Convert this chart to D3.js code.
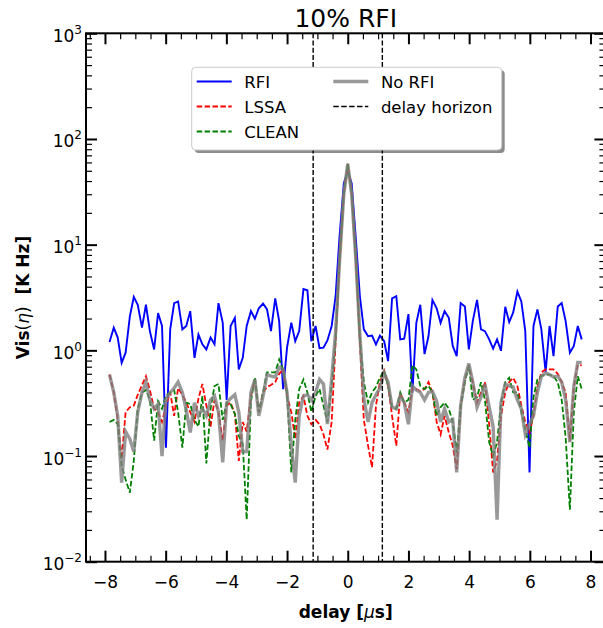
<!DOCTYPE html>
<html>
<head>
<meta charset="utf-8">
<script src="https://cdn.jsdelivr.net/npm/d3@7"></script>
<style>
  body { margin: 0; background: #fff; }
  text { font-family: "DejaVu Sans", sans-serif; }
</style>
</head>
<body>
<div id="chart"></div>
<script>
// delay axis (microseconds), one value per sample
const delay = [-7.85, -7.71, -7.58, -7.45, -7.32, -7.18, -7.05, -6.92, -6.78, -6.65,
  -6.52, -6.38, -6.25, -6.12, -5.99, -5.85, -5.72, -5.59, -5.45, -5.32,
  -5.19, -5.05, -4.92, -4.79, -4.66, -4.52, -4.39, -4.26, -4.12, -3.99,
  -3.86, -3.72, -3.59, -3.46, -3.33, -3.19, -3.06, -2.93, -2.79, -2.66,
  -2.53, -2.39, -2.26, -2.13, -2.00, -1.86, -1.73, -1.60, -1.46, -1.33,
  -1.20, -1.06, -0.93, -0.80, -0.67, -0.53, -0.40, -0.27, -0.13, 0,
  0.13, 0.27, 0.40, 0.53, 0.67, 0.80, 0.93, 1.06, 1.20, 1.33,
  1.46, 1.60, 1.73, 1.86, 2.00, 2.13, 2.26, 2.39, 2.53, 2.66,
  2.79, 2.93, 3.06, 3.19, 3.33, 3.46, 3.59, 3.72, 3.86, 3.99,
  4.12, 4.26, 4.39, 4.52, 4.66, 4.79, 4.92, 5.05, 5.19, 5.32,
  5.45, 5.59, 5.72, 5.85, 5.99, 6.12, 6.25, 6.38, 6.52, 6.65,
  6.78, 6.92, 7.05, 7.18, 7.32, 7.45, 7.58, 7.71];

const rfi = [1.2, 1.64, 1.32, 0.76, 0.95, 2.1, 3.2, 2.7, 1.64, 2.7,
  1.52, 1.02, 2.25, 1.70, 0.12, 1.58, 2.8, 2.9, 1.58, 1.70,
  2.35, 0.85, 1.41, 1.14, 1.02, 1.32, 1.14, 2.8, 1.83, 0.34,
  1.70, 2.03, 0.66, 0.85, 1.70, 2.35, 1.99, 2.5, 2.77, 2.44,
  1.52, 3.1, 1.89, 0.43, 1.06, 1.83, 1.22, 1.52, 3.8, 3.7,
  1.22, 1.70, 1.05, 1.06, 1.24, 1.70, 3.25, 12, 38, 50,
  38, 11, 3.25, 1.58, 1.36, 1.38, 1.14, 1.38, 1.22, 0.79,
  3.1, 3.25, 1.27, 1.29, 2.2, 0.40, 1.82, 2.7, 0.92, 1.36,
  3.0, 2.5, 1.82, 2.35, 2.03, 1.10, 0.88, 2.8, 2.6, 1.02,
  1.89, 3.0, 1.58, 1.52, 1.27, 1.04, 1.27, 0.99, 2.58, 1.85,
  2.27, 3.6, 2.9, 1.52, 0.07, 1.70, 2.44, 1.58, 0.62, 1.70,
  0.88, 2.6, 2.8, 1.89, 0.95, 1.10, 1.70, 1.27];

const lssa = [0.59, 0.40, 0.22, 0.094, 0.26, 0.29, 0.30, 0.38, 0.47, 0.57,
  0.42, 0.28, 0.26, 0.21, 0.30, 0.40, 0.24, 0.44, 0.38, 0.32,
  0.26, 0.21, 0.35, 0.48, 0.30, 0.19, 0.34, 0.26, 0.14, 0.30,
  0.32, 0.25, 0.09, 0.21, 0.17, 0.37, 0.53, 0.26, 0.40, 0.45,
  0.47, 0.50, 0.60, 0.66, 0.37, 0.26, 0.145, 0.32, 0.37, 0.24,
  0.20, 0.22, 0.20, 0.16, 0.115, 0.21, 1.2, 7, 30, 58,
  30, 7, 1.2, 0.22, 0.125, 0.078, 0.30, 0.50, 0.64, 0.46,
  0.24, 0.125, 0.40, 0.32, 0.26, 0.44, 0.43, 0.41, 0.43, 0.50,
  0.40, 0.21, 0.16, 0.24, 0.167, 0.125, 0.075, 0.30, 0.53, 0.70,
  0.50, 0.32, 0.40, 0.50, 0.20, 0.07, 0.09, 0.24, 0.40, 0.50,
  0.55, 0.46, 0.30, 0.21, 0.167, 0.24, 0.45, 0.62, 0.66, 0.66,
  0.66, 0.60, 0.50, 0.40, 0.14, 0.45, 0.73, 0.72];

const clean = [0.21, 0.22, 0.20, 0.08, 0.06, 0.045, 0.09, 0.28, 0.40, 0.42,
  0.34, 0.14, 0.33, 0.28, 0.37, 0.40, 0.42, 0.26, 0.12, 0.32,
  0.31, 0.22, 0.19, 0.37, 0.085, 0.28, 0.46, 0.48, 0.22, 0.32,
  0.31, 0.25, 0.155, 0.13, 0.025, 0.33, 0.55, 0.26, 0.40, 0.62,
  0.62, 0.62, 0.82, 0.66, 0.40, 0.07, 0.22, 0.43, 0.53, 0.40,
  0.26, 0.37, 0.43, 0.30, 0.21, 0.46, 1.3, 7, 30, 58,
  30, 7, 1.3, 0.50, 0.32, 0.40, 0.45, 0.55, 0.64, 0.46,
  0.29, 0.28, 0.40, 0.32, 0.34, 0.72, 0.66, 0.46, 0.43, 0.46,
  0.40, 0.24, 0.29, 0.32, 0.28, 0.21, 0.108, 0.29, 0.50, 0.72,
  0.34, 0.36, 0.50, 0.34, 0.135, 0.10, 0.135, 0.32, 0.50, 0.55,
  0.40, 0.40, 0.26, 0.18, 0.12, 0.36, 0.53, 0.57, 0.59, 0.59,
  0.57, 0.50, 0.34, 0.15, 0.031, 0.26, 0.57, 0.43];

const noRfi = [0.59, 0.40, 0.24, 0.056, 0.17, 0.145, 0.11, 0.26, 0.40, 0.50,
  0.34, 0.28, 0.31, 0.10, 0.34, 0.40, 0.44, 0.50, 0.40, 0.27,
  0.167, 0.32, 0.24, 0.28, 0.24, 0.34, 0.37, 0.26, 0.087, 0.32,
  0.35, 0.38, 0.26, 0.11, 0.11, 0.40, 0.53, 0.24, 0.37, 0.59,
  0.57, 0.56, 0.69, 0.66, 0.40, 0.125, 0.056, 0.24, 0.37, 0.38,
  0.34, 0.40, 0.53, 0.48, 0.20, 0.53, 1.5, 7, 30, 58,
  30, 7, 1.4, 0.35, 0.21, 0.32, 0.38, 0.44, 0.61, 0.50,
  0.29, 0.28, 0.37, 0.32, 0.20, 0.46, 0.42, 0.40, 0.34, 0.40,
  0.41, 0.33, 0.21, 0.28, 0.21, 0.22, 0.07, 0.30, 0.55, 0.75,
  0.50, 0.29, 0.36, 0.48, 0.29, 0.19, 0.025, 0.32, 0.48, 0.46,
  0.45, 0.34, 0.28, 0.16, 0.20, 0.24, 0.40, 0.57, 0.61, 0.59,
  0.56, 0.57, 0.50, 0.34, 0.135, 0.46, 0.77, 0.77];

const horizon = [-1.14, 1.14];
const xTicks = [-8, -6, -4, -2, 0, 2, 4, 6, 8];
const yTicks = [1e-2, 1e-1, 1e0, 1e1, 1e2, 1e3];
const yExp = ["−2", "−1", "0", "1", "2", "3"];

// page size and plot box
const W = 603, H = 628;
const pL = 86, pR = 605.4, pT = 33.3, pB = 561.7;

var svg = d3.select("#chart")
  .append("svg")
  .attr("width", W)
  .attr("height", H);

var x = d3.scaleLinear().domain([-8.625, 8.49]).range([pL, pR]);
var y = d3.scaleLog().domain([1e-2, 1e3]).range([pB, pT]);

// minor tick positions
var xMinor = d3.range(-8.5, 8.5, 0.5).filter(function(v) { return v % 2 !== 0; });
var yMinor = [];
yTicks.slice(0, -1).forEach(function(t) {
  for (var m = 2; m <= 9; m++) yMinor.push(t * m);
});

// series lines
var line = function(vals) {
  return d3.line()
    .x(function(d, i) { return x(delay[i]); })
    .y(function(d) { return y(d); })(vals);
};

var plot = svg.append("g");

plot.append("path").attr("d", line(rfi))
  .attr("fill", "none").attr("stroke", "#0000ff").attr("stroke-width", 1.9);
plot.append("path").attr("d", line(lssa))
  .attr("fill", "none").attr("stroke", "#ff0000").attr("stroke-width", 1.8)
  .attr("stroke-dasharray", "5.5,2.4");
plot.append("path").attr("d", line(clean))
  .attr("fill", "none").attr("stroke", "#008000").attr("stroke-width", 1.8)
  .attr("stroke-dasharray", "5.5,2.4");
plot.append("path").attr("d", line(noRfi))
  .attr("fill", "none").attr("stroke", "#808080").attr("stroke-width", 3.4)
  .attr("stroke-opacity", 0.8);

// delay horizon
plot.selectAll(".hz")
  .data(horizon).enter()
  .append("line")
  .attr("x1", function(d) { return x(d); })
  .attr("x2", function(d) { return x(d); })
  .attr("y1", pT).attr("y2", pB)
  .attr("stroke", "black").attr("stroke-width", 1.4)
  .attr("stroke-dasharray", "5,2.2");

// axes, ticks pointing inwards on all four sides
function styleAxis(g, w) {
  g.select(".domain").remove();
  g.selectAll(".tick line").attr("stroke", "black").attr("stroke-width", w);
}

svg.append("g").attr("transform", "translate(0," + pB + ")")
  .call(d3.axisBottom(x).tickValues(xTicks).tickSize(-11).tickPadding(14)
    .tickFormat(function(d) { return d < 0 ? "−" + (-d) : d; }))
  .call(styleAxis, 2)
  .selectAll("text").attr("font-size", 17).attr("fill", "black")
  .style("font-family", "DejaVu Sans");
svg.append("g").attr("transform", "translate(0," + pB + ")")
  .call(d3.axisBottom(x).tickValues(xMinor).tickSize(-6).tickFormat(""))
  .call(styleAxis, 1.2);
svg.append("g").attr("transform", "translate(0," + pT + ")")
  .call(d3.axisTop(x).tickValues(xTicks).tickSize(-11).tickFormat(""))
  .call(styleAxis, 2);
svg.append("g").attr("transform", "translate(0," + pT + ")")
  .call(d3.axisTop(x).tickValues(xMinor).tickSize(-6).tickFormat(""))
  .call(styleAxis, 1.2);

var yAxis = svg.append("g").attr("transform", "translate(" + pL + ",0)")
  .call(d3.axisLeft(y).tickValues(yTicks).tickSize(-11).tickFormat(""))
  .call(styleAxis, 2);
svg.append("g").attr("transform", "translate(" + pL + ",0)")
  .call(d3.axisLeft(y).tickValues(yMinor).tickSize(-6).tickFormat(""))
  .call(styleAxis, 1.2);
svg.append("g").attr("transform", "translate(" + pR + ",0)")
  .call(d3.axisRight(y).tickValues(yTicks).tickSize(-11).tickFormat(""))
  .call(styleAxis, 2);
svg.append("g").attr("transform", "translate(" + pR + ",0)")
  .call(d3.axisRight(y).tickValues(yMinor).tickSize(-6).tickFormat(""))
  .call(styleAxis, 1.2);

// y tick labels as 10 with a raised exponent
yAxis.selectAll(".tick").each(function(d, i) {
  var t = d3.select(this).append("text")
    .attr("x", -4).attr("y", 8)
    .attr("text-anchor", "end")
    .attr("fill", "black")
    .attr("font-size", 17);
  t.append("tspan").text("10");
  t.append("tspan").attr("dy", -8).attr("font-size", 12).text(yExp[i]);
});

// frame
svg.append("rect")
  .attr("x", pL).attr("y", pT)
  .attr("width", pR - pL).attr("height", pB - pT)
  .attr("fill", "none").attr("stroke", "black").attr("stroke-width", 2);

// title and axis labels
svg.append("text")
  .attr("x", (pL + pR) / 2).attr("y", 27)
  .attr("text-anchor", "middle").attr("font-size", 25)
  .text("10% RFI");

var xl = svg.append("text")
  .attr("x", (pL + pR) / 2).attr("y", 618)
  .attr("text-anchor", "middle").attr("font-size", 17).attr("font-weight", "bold");
xl.append("tspan").text("delay [");
xl.append("tspan").attr("font-style", "italic").attr("font-weight", "normal").text("μ");
xl.append("tspan").text("s]");

var yl = svg.append("text")
  .attr("transform", "translate(29," + (pT + pB) / 2 + ") rotate(-90)")
  .attr("text-anchor", "middle").attr("font-size", 17).attr("font-weight", "bold")
  .style("white-space", "pre");
yl.append("tspan").text("Vis");
yl.append("tspan").attr("font-weight", "normal").text("(");
yl.append("tspan").attr("font-weight", "normal").attr("font-style", "italic").text("η");
yl.append("tspan").attr("font-weight", "normal").text(")");
yl.append("tspan").text("  [K Hz]");

// legend
var lg = svg.append("g").attr("transform", "translate(191.7,67.3)");
lg.append("rect")
  .attr("x", 3).attr("y", 3).attr("width", 310).attr("height", 82.7).attr("rx", 4)
  .attr("fill", "#000").attr("fill-opacity", 0.45);
lg.append("rect")
  .attr("width", 310).attr("height", 82.7).attr("rx", 4)
  .attr("fill", "white").attr("stroke", "#cccccc").attr("stroke-width", 1);

var entries = [
  { name: "RFI", col: 0, row: 0, color: "#0000ff", dash: null, w: 1.9, op: 1 },
  { name: "LSSA", col: 0, row: 1, color: "#ff0000", dash: "5.5,2.4", w: 1.8, op: 1 },
  { name: "CLEAN", col: 0, row: 2, color: "#008000", dash: "5.5,2.4", w: 1.8, op: 1 },
  { name: "No RFI", col: 1, row: 0, color: "#808080", dash: null, w: 3.4, op: 0.8 },
  { name: "delay horizon", col: 1, row: 1, color: "black", dash: "5.5,2.4", w: 1.6, op: 1 }
];
var item = lg.selectAll(".item").data(entries).enter().append("g")
  .attr("transform", function(d) {
    return "translate(" + (5 + d.col * 136.6) + "," + (14.2 + d.row * 25) + ")";
  });
item.append("line")
  .attr("x1", 0).attr("x2", 35).attr("y1", 0).attr("y2", 0)
  .attr("stroke", function(d) { return d.color; })
  .attr("stroke-width", function(d) { return d.w; })
  .attr("stroke-opacity", function(d) { return d.op; })
  .attr("stroke-dasharray", function(d) { return d.dash; });
item.append("text")
  .attr("x", 47.6).attr("y", 6)
  .attr("font-size", 16.5)
  .text(function(d) { return d.name; });
</script>
</body>
</html>
